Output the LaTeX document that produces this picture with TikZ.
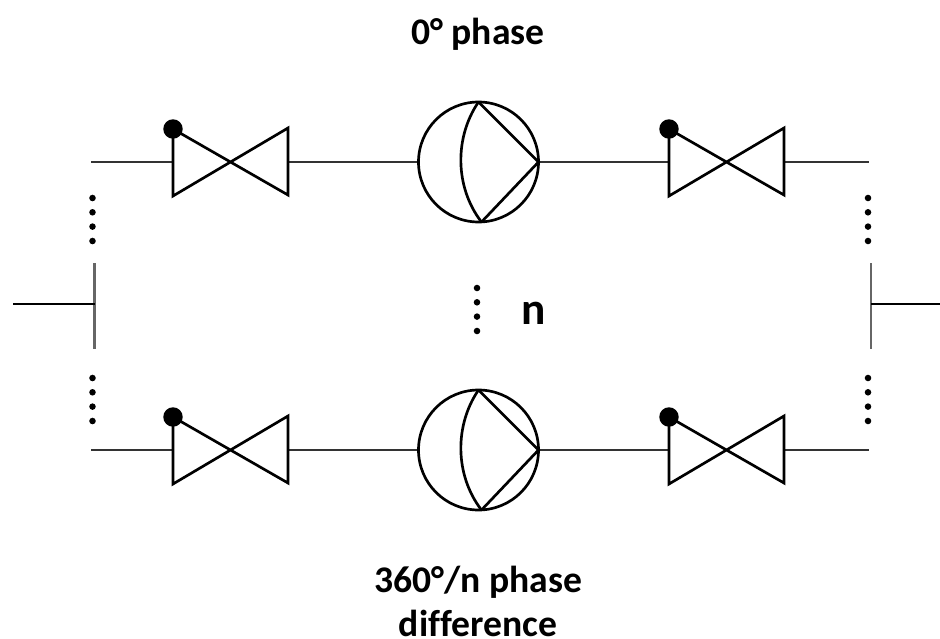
\documentclass[tikz,border=0pt]{standalone}
\usepackage{fontspec}
\setmainfont{Carlito}[Ligatures=NoCommon]
\tikzset{
  x=0.75pt,y=-0.75pt,
  pipe/.style={line width=1.5pt,black!80},
  sym/.style={line width=2pt,black,line join=miter},
  feed/.style={line width=2.1pt,black},
  bar/.style={line width=1.6pt,black!60},
  dotmark/.style={circle,fill=black,inner sep=0pt,minimum size=4.9pt},
  knob/.style={circle,fill=black,inner sep=0pt,minimum size=14.6pt},
  lbl/.style={font=\bfseries\fontsize{28.2}{33}\selectfont,inner sep=0pt,align=center},
  nlbl/.style={font=\bfseries\fontsize{34}{38}\selectfont,inner sep=0pt},
  pics/valve/.style={code={
    \draw[sym] (0,-33) -- (115,33) -- (115,-34) -- (0,34) -- cycle;
    \node[knob] at (0,-33) {};
  }},
  pics/pump/.style={code={
    \draw[sym] (0,0) circle[radius=60];
    \draw[sym] (0,-60) .. controls (-24,-25) and (-24,25) .. (3,60);
    \draw[sym] (0,-60) -- (60,0) -- (3,60);
  }},
  pics/dots/.style={code={
    \foreach \k in {0,14.3,28.6,43}{\node[dotmark] at (0,\k) {};}
  }}
}
\begin{document}
\begin{tikzpicture}
\useasboundingbox (0,0) rectangle (940,639);
\foreach \yy in {162,450}{
  \coordinate (L) at (91,\yy);
  \coordinate (VLa) at (173,\yy);
  \coordinate (VLb) at (288,\yy);
  \coordinate (Pa) at (418,\yy);
  \coordinate (Pb) at (539,\yy);
  \coordinate (VRa) at (669,\yy);
  \coordinate (VRb) at (784,\yy);
  \coordinate (R) at (869,\yy);
  \draw[pipe] (L) -- (VLa) (VLb) -- (Pa) (Pb) -- (VRa) (VRb) -- (R);
  \pic at (VLa) {valve};
  \pic at (VRa) {valve};
  \pic at (478.5,\yy) {pump};
}
\coordinate (BLt) at (94.5,263); \coordinate (BLb) at (94.5,349); \coordinate (BLm) at (94.5,304);
\coordinate (BRt) at (871,263); \coordinate (BRb) at (871,349); \coordinate (BRm) at (871,304);
\coordinate (FL) at (13,304); \coordinate (FR) at (940,304);
\draw[bar] (BLt) -- (BLb);
\draw[bar] (BRt) -- (BRb);
\draw[feed] (FL) -- (BLm);
\draw[feed] (BRm) -- (FR);
\pic at (92.5,198) {dots};
\pic at (92.5,378) {dots};
\pic at (868,198) {dots};
\pic at (868,378) {dots};
\pic at (477,288) {dots};
\node[lbl,anchor=base] (top) at (478,44) {0° phase};
\node[lbl,anchor=base] (bot) at (478,592) {360°/n phase};
\node[lbl,anchor=base] (bot2) at (478,636) {difference};
\node[nlbl,anchor=base] (n) at (533.5,324) {n};
\end{tikzpicture}
\end{document}
